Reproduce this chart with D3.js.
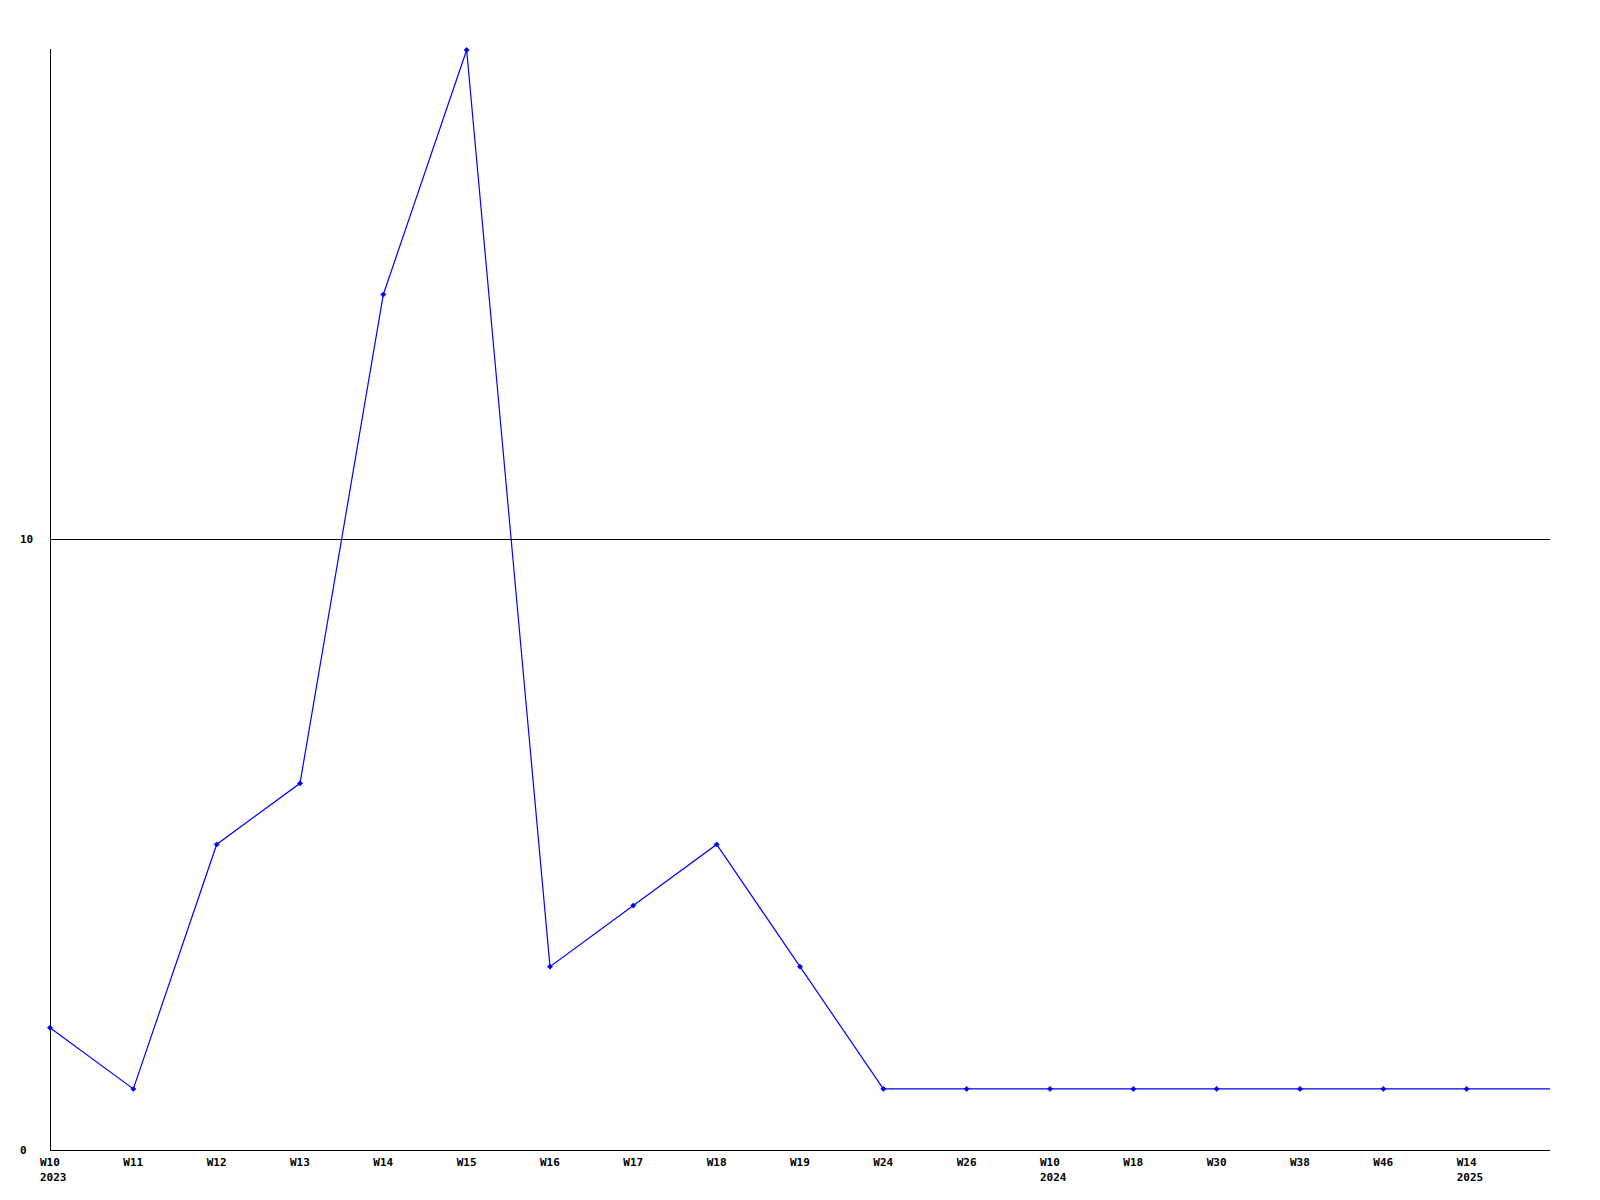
<!DOCTYPE html>
<html><head><meta charset="utf-8">
<script src="https://cdn.jsdelivr.net/npm/d3@7"></script>
<style>body{margin:0;background:#fff;} svg{display:block;}</style>
</head><body>
<svg id="c" width="1600" height="1200"></svg>
<script>
const weeks = ["W10","W11","W12","W13","W14","W15","W16","W17","W18","W19","W24","W26","W10","W18","W30","W38","W46","W14"];
const years = ["2023","","","","","","","","","","","","2024","","","","","2025"];
const values = [2,1,5,6,14,18,3,4,5,3,1,1,1,1,1,1,1,1];
const tailValue = 1; // line continues to the right edge
const yTicks = [0,10];

(function(){
const svg = d3.select("#c");
const mLeft = 50, mRight = 1550, mTop = 50, mBottom = 1150;
const x = d3.scaleLinear().domain([0, weeks.length]).range([mLeft, mRight]);
const y = d3.scaleLinear().domain([0, 18]).range([mBottom, mTop]);
const font = "'DejaVu Sans Mono', monospace";

// gridline at 10
svg.selectAll("line.grid").data(yTicks.filter(d=>d>0)).join("line")
  .attr("x1", mLeft).attr("x2", mRight)
  .attr("y1", d=>Math.round(y(d))+0.5).attr("y2", d=>Math.round(y(d))+0.5)
  .attr("stroke","#000").attr("stroke-width",1);

// axes
svg.append("line").attr("x1",mLeft+0.5).attr("x2",mLeft+0.5).attr("y1",mTop-1).attr("y2",mBottom+0.5).attr("stroke","#000");
svg.append("line").attr("x1",mLeft).attr("x2",mRight).attr("y1",mBottom+0.5).attr("y2",mBottom+0.5).attr("stroke","#000");

// y labels
svg.selectAll("text.yl").data(yTicks).join("text")
  .attr("x", 20).attr("y", d=>y(d)+4)
  .attr("font-family", font).attr("font-weight","bold").attr("font-size", 11)
  .text(d=>d);

// x labels
svg.selectAll("text.xl").data(weeks).join("text")
  .attr("x",(d,i)=>x(i)-10).attr("y", 1166)
  .attr("font-family", font).attr("font-weight","bold").attr("font-size", 11)
  .text(d=>d);
svg.selectAll("text.yr").data(years).join("text")
  .attr("x",(d,i)=>x(i)-10).attr("y", 1181)
  .attr("font-family", font).attr("font-weight","bold").attr("font-size", 11)
  .text(d=>d);

// line
const pts = values.map((v,i)=>[x(i), y(v)]);
pts.push([x(weeks.length), y(tailValue)]);
svg.append("path").attr("d", d3.line()(pts))
  .attr("fill","none").attr("stroke","#0000ff").attr("stroke-width",1.2);

// markers
svg.selectAll("path.m").data(values).join("path")
  .attr("transform",(d,i)=>`translate(${x(i)},${y(d)})`)
  .attr("d","M-2.5,0L0,-2.5L2.5,0L0,2.5Z")
  .attr("fill","#0000ff").attr("stroke","#0000ff").attr("stroke-width",0.8);
})();
</script>
</body></html>
